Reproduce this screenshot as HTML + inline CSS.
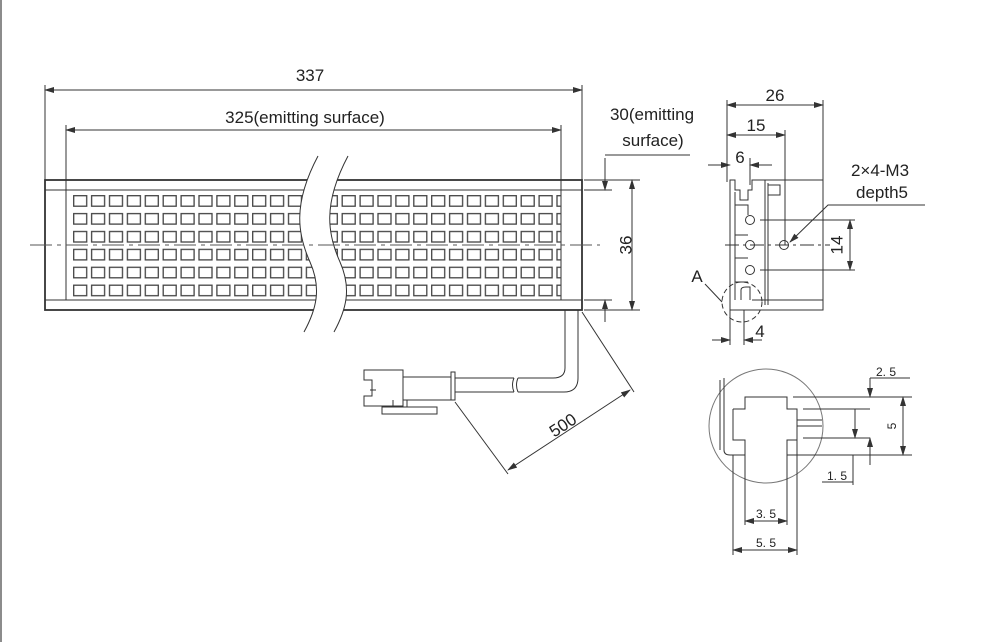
<!DOCTYPE html>
<html><head><meta charset="utf-8"><style>
html,body{margin:0;padding:0;background:#fff;}
svg{display:block;font-family:"Liberation Sans",sans-serif;}
</style></head><body>
<svg width="984" height="642" viewBox="0 0 984 642" xmlns="http://www.w3.org/2000/svg">
<defs>
<marker id="ar" markerWidth="10" markerHeight="6" refX="9" refY="3" orient="auto-start-reverse" markerUnits="userSpaceOnUse"><path d="M0,0 L10,3 L0,6 z" fill="#333"/></marker>
<pattern id="sq" x="73" y="195" width="17.9" height="17.9" patternUnits="userSpaceOnUse"><rect x="0.7" y="0.7" width="13" height="10.5" fill="none" stroke="#444" stroke-width="1.3"/></pattern>
</defs>
<line x1="1" y1="0" x2="1" y2="642" stroke="#666" stroke-width="1.5"/>
<g stroke="#333" fill="none" stroke-width="1">
<rect x="45" y="180" width="537" height="130" stroke-width="1.8"/>
<line x1="45" y1="190" x2="582" y2="190"/>
<line x1="45" y1="300" x2="582" y2="300"/>
<line x1="66" y1="180" x2="66" y2="300"/>
<line x1="561" y1="180" x2="561" y2="300"/>
<rect x="72" y="194" width="489" height="106" fill="url(#sq)" stroke="none"/>
<path d="M318,156 C292,205 298,235 310,262 S316,310 304,332 L334,332 C346,310 352,285 340,262 S322,205 348,156 Z" fill="#fff" stroke="none"/>
<path d="M318,156 C292,205 298,235 310,262 S316,310 304,332"/>
<path d="M348,156 C322,205 328,235 340,262 S346,310 334,332"/>
<line x1="30" y1="245" x2="600" y2="245" stroke-dasharray="22,5,4,5" stroke="#555"/>
<line x1="45" y1="85" x2="45" y2="180"/><line x1="582" y1="85" x2="582" y2="180"/>
<line x1="45" y1="90" x2="582" y2="90" marker-start="url(#ar)" marker-end="url(#ar)"/>
<line x1="66" y1="125" x2="66" y2="190"/><line x1="561" y1="125" x2="561" y2="190"/>
<line x1="66" y1="130" x2="561" y2="130" marker-start="url(#ar)" marker-end="url(#ar)"/>
<line x1="584" y1="180" x2="640" y2="180"/><line x1="584" y1="310" x2="640" y2="310"/>
<line x1="632" y1="180" x2="632" y2="310" marker-start="url(#ar)" marker-end="url(#ar)"/>
<line x1="584" y1="190" x2="612" y2="190"/><line x1="584" y1="300" x2="612" y2="300"/>
<line x1="605" y1="158" x2="605" y2="190" marker-end="url(#ar)"/>
<line x1="605" y1="322" x2="605" y2="300" marker-end="url(#ar)"/>
<line x1="605" y1="155" x2="690" y2="155"/>
<path d="M578,310 V378 Q578,392 564,392 H518 M514,392 H455"/>
<path d="M565,310 V368 Q565,378 553,378 H518 M514,378 H455"/>
<path d="M518,378 Q515,385 518,392 M514,378 Q511,385 514,392"/>
<path d="M364,370 H403 V406 H364 V396 H372 V380 H364 Z"/>
<line x1="370" y1="390" x2="376" y2="390"/>
<rect x="403" y="377" width="48" height="23"/>
<rect x="451" y="372" width="4" height="28"/>
<path d="M382,407 H437 V414 H382 Z M393,400 V407 M407,400 V407"/>
<line x1="582" y1="312" x2="634" y2="392"/>
<line x1="455" y1="402" x2="508" y2="474"/>
<line x1="508" y1="470" x2="630" y2="390" marker-start="url(#ar)" marker-end="url(#ar)"/>
<line x1="727" y1="100" x2="727" y2="182"/><line x1="823" y1="100" x2="823" y2="182"/>
<line x1="727" y1="105" x2="823" y2="105" marker-start="url(#ar)" marker-end="url(#ar)"/>
<line x1="785" y1="130" x2="785" y2="245"/>
<line x1="727" y1="135" x2="785" y2="135" marker-start="url(#ar)" marker-end="url(#ar)"/>
<line x1="750" y1="158" x2="750" y2="185"/>
<line x1="708" y1="165" x2="730" y2="165" marker-end="url(#ar)"/>
<line x1="772" y1="165" x2="750" y2="165" marker-end="url(#ar)"/>
<path d="M730,180 V310 H823 V180 H752 V190 H748 V200 H740 V190 H735 V180 Z"/>
<path d="M735,205 H748 V215 M735,235 H748 M735,258 H748 M735,282 H748"/>
<path d="M735,192 V300 M765,180 V305 M768,183 V305 M741,300 V290 Q741,287 746,287 H750 V300 M752,300 H823"/>
<rect x="768" y="185" width="12" height="10"/>
<circle cx="750" cy="220" r="4.5"/><circle cx="750" cy="245" r="4.5"/><circle cx="750" cy="270" r="4.5"/>
<circle cx="784" cy="245" r="4.5"/>
<line x1="760" y1="220" x2="855" y2="220"/><line x1="760" y1="270" x2="855" y2="270"/>
<line x1="725" y1="245" x2="830" y2="245" stroke-dasharray="14,4,3,4"/>
<line x1="850" y1="220" x2="850" y2="270" marker-start="url(#ar)" marker-end="url(#ar)"/>
<path d="M925,205 H828 L790,242" marker-end="url(#ar)"/>
<circle cx="742" cy="302" r="20" stroke-dasharray="5,3"/>
<line x1="705" y1="284" x2="722" y2="302"/>
<line x1="730" y1="310" x2="730" y2="345"/><line x1="744" y1="310" x2="744" y2="345"/>
<line x1="712" y1="340" x2="730" y2="340" marker-end="url(#ar)"/>
<line x1="762" y1="340" x2="744" y2="340" marker-end="url(#ar)"/>
<circle cx="766" cy="426" r="57" stroke="#777"/>
<path d="M720,380 V450 M724,378 V450 Q724,455 730,455 H745"/>
<path d="M733,409 H745 V397 H787 V409 H797 V440 H787 V455 M733,409 V440 H745 V455"/>
<path d="M797,420 H822 M797,426 H822"/>
<path d="M793,397 H912 M803,409 H870 M803,438 H870 M787,455 H912"/>
<line x1="903" y1="397" x2="903" y2="455" marker-start="url(#ar)" marker-end="url(#ar)"/>
<line x1="870" y1="378" x2="870" y2="397" marker-end="url(#ar)"/>
<line x1="855" y1="409" x2="855" y2="438" marker-end="url(#ar)"/>
<line x1="870" y1="465" x2="870" y2="438" marker-end="url(#ar)"/>
<path d="M870,378 H910 M853,485 V455 M822,482 H853"/>
<path d="M733,455 V555 M745,440 V525 M787,440 V525 M797,440 V555"/>
<line x1="745" y1="521" x2="787" y2="521" marker-start="url(#ar)" marker-end="url(#ar)"/>
<line x1="733" y1="550" x2="797" y2="550" marker-start="url(#ar)" marker-end="url(#ar)"/>
</g>
<g fill="#222" font-size="17">
<text x="310" y="81" text-anchor="middle">337</text>
<text x="305" y="123" text-anchor="middle">325(emitting surface)</text>
<text x="652" y="120" text-anchor="middle">30(emitting</text>
<text x="653" y="146" text-anchor="middle">surface)</text>
<text x="627" y="245" text-anchor="middle" transform="rotate(-90 627 245)" dominant-baseline="middle">36</text>
<text x="566" y="430" text-anchor="middle" transform="rotate(-33 566 430)">500</text>
<text x="775" y="101" text-anchor="middle">26</text>
<text x="756" y="131" text-anchor="middle">15</text>
<text x="740" y="163" text-anchor="middle">6</text>
<text x="880" y="176" text-anchor="middle">2×4-M3</text>
<text x="882" y="198" text-anchor="middle">depth5</text>
<text x="838" y="245" text-anchor="middle" transform="rotate(-90 838 245)" dominant-baseline="middle">14</text>
<text x="697" y="282" text-anchor="middle">A</text>
<text x="760" y="337" text-anchor="middle">4</text>
</g>
<g fill="#222" font-size="12">
<text x="886" y="376" text-anchor="middle">2. 5</text>
<text x="893" y="426" text-anchor="middle" transform="rotate(-90 893 426)" dominant-baseline="middle">5</text>
<text x="837" y="480" text-anchor="middle">1. 5</text>
<text x="766" y="518" text-anchor="middle">3. 5</text>
<text x="766" y="547" text-anchor="middle">5. 5</text>
</g>
</svg>
</body></html>
